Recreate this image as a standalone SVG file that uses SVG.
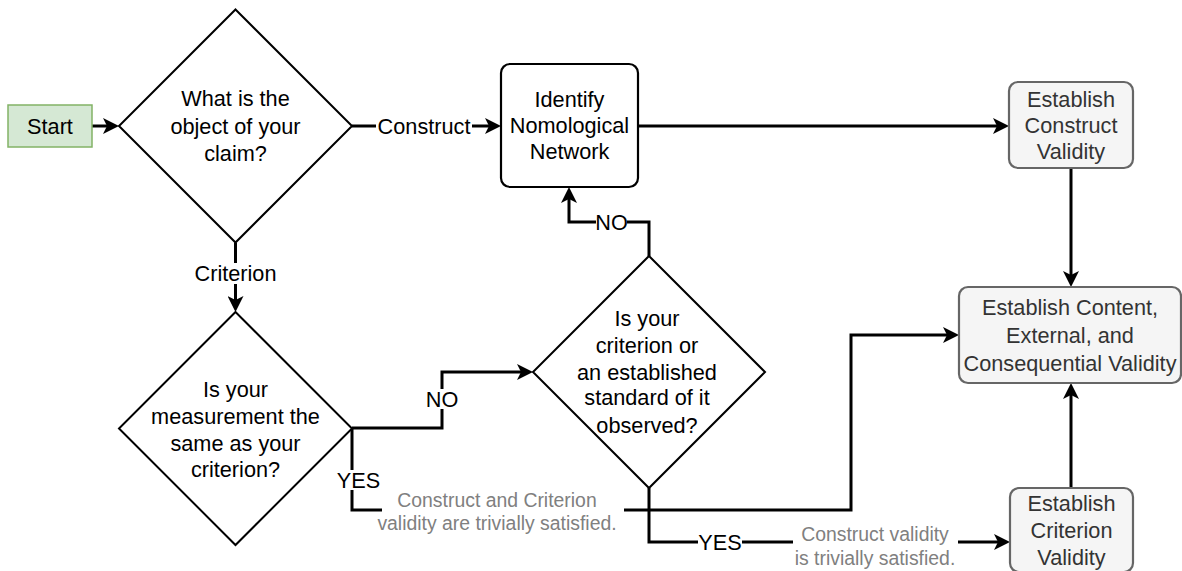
<svg xmlns="http://www.w3.org/2000/svg" width="1182" height="571" viewBox="0 0 1182 571">
<defs>
<marker id="arr" viewBox="0 0 16 16" refX="12" refY="8" markerWidth="16" markerHeight="16" markerUnits="userSpaceOnUse" orient="auto">
<path d="M0,0 L16,8 L0,16 L4,8 z" fill="#000"/>
</marker>
<style>
text{font-family:"Liberation Sans",Arial,sans-serif;font-size:21.7px;text-anchor:middle;fill:#000}
.gt{fill:#333}
.lbl{font-size:19.4px;fill:#808080}
.dia{fill:#fff;stroke:#000;stroke-width:2}
.box{fill:#fff;stroke:#000;stroke-width:2.2}
.gbox{fill:#f5f5f5;stroke:#666;stroke-width:2.2}
.edge{fill:none;stroke:#000;stroke-width:3}
.bg{fill:#fff}
</style>
</defs>
<rect width="1182" height="571" fill="#fff"/>
<g id="connectors">
<path class="edge" d="M92,126 L115,126" marker-end="url(#arr)"/>
<path class="edge" d="M352,126 L497,126" marker-end="url(#arr)"/>
<path class="edge" d="M638,126 L1005,126" marker-end="url(#arr)"/>
<path class="edge" d="M1071,168 L1071,283" marker-end="url(#arr)"/>
<path class="edge" d="M1071,488 L1071,387" marker-end="url(#arr)"/>
<path class="edge" d="M235.5,242.5 L235.5,308" marker-end="url(#arr)"/>
<path class="edge" d="M352,428 L442,428 L442,372 L529,372" marker-end="url(#arr)"/>
<path class="edge" d="M649,256 L649,222 L569,222 L569,191" marker-end="url(#arr)"/>
<path class="edge" d="M352,428 L352,510 L851,510 L851,335 L955,335" marker-end="url(#arr)"/>
<path class="edge" d="M649,488 L649,542 L1006,542" marker-end="url(#arr)"/>
<rect class="bg" x="376" y="116" width="96" height="20"/>
<text x="424" y="133.5">Construct</text>
<rect class="bg" x="194" y="263" width="84" height="21"/>
<text x="235.5" y="280.5">Criterion</text>
<rect class="bg" x="426" y="389" width="32" height="20"/>
<text x="442" y="406.5">NO</text>
<rect class="bg" x="596" y="212" width="31" height="20"/>
<text x="611.5" y="229.5">NO</text>
<rect class="bg" x="337" y="470" width="43" height="20"/>
<text x="358.5" y="487.5">YES</text>
<rect class="bg" x="698" y="532" width="44" height="20"/>
<text x="720" y="549.5">YES</text>
<rect class="bg" x="382" y="488" width="242" height="46"/>
<text class="lbl" x="497" y="506.5">Construct and Criterion</text>
<text class="lbl" x="497" y="529.5">validity are trivially satisfied.</text>
<rect class="bg" x="793" y="522" width="165" height="48"/>
<text class="lbl" x="875" y="540.5">Construct validity</text>
<text class="lbl" x="875" y="564.5">is trivially satisfied.</text>
</g>
<g id="start">
<rect x="8" y="105" width="84" height="42" fill="#d5e8d4" stroke="#82b366" stroke-width="1.5"/>
<text x="50" y="133.5">Start</text>
</g>
<g id="object-decision">
<polygon class="dia" points="235.5,9.5 352,126 235.5,242.5 119,126"/>
<text x="235.5" y="105.5">What is the</text>
<text x="235.5" y="133.5">object of your</text>
<text x="235.5" y="160.5">claim?</text>
</g>
<g id="identify-network">
<rect class="box" x="501" y="64" width="137" height="123" rx="9"/>
<text x="569.5" y="106.5">Identify</text>
<text x="569.5" y="133">Nomological</text>
<text x="569.5" y="159">Network</text>
</g>
<g id="construct-validity">
<rect class="gbox" x="1009" y="82" width="124" height="86" rx="9"/>
<text class="gt" x="1071" y="106.5">Establish</text>
<text class="gt" x="1071" y="132.5">Construct</text>
<text class="gt" x="1071" y="158.5">Validity</text>
</g>
<g id="content-validity">
<rect class="gbox" x="959" y="287" width="222" height="96" rx="9"/>
<text class="gt" x="1070" y="315">Establish Content,</text>
<text class="gt" x="1070" y="343">External, and</text>
<text class="gt" x="1070" y="370.5">Consequential Validity</text>
</g>
<g id="criterion-validity">
<rect class="gbox" x="1010" y="488" width="123" height="84" rx="9"/>
<text class="gt" x="1071.5" y="510.5">Establish</text>
<text class="gt" x="1071.5" y="537.5">Criterion</text>
<text class="gt" x="1071.5" y="564.5">Validity</text>
</g>
<g id="measurement-decision">
<polygon class="dia" points="235.5,312 352,428.5 235.5,545 119,428.5"/>
<text x="235.5" y="396.5">Is your</text>
<text x="235.5" y="423.5">measurement the</text>
<text x="235.5" y="450.5">same as your</text>
<text x="235.5" y="476.5">criterion?</text>
</g>
<g id="criterion-decision">
<polygon class="dia" points="649,256 765,372 649,488 533,372"/>
<text x="647" y="325.5">Is your</text>
<text x="647" y="352.5">criterion or</text>
<text x="647" y="379.5">an established</text>
<text x="647" y="405">standard of it</text>
<text x="647" y="432.5">observed?</text>
</g>
</svg>
